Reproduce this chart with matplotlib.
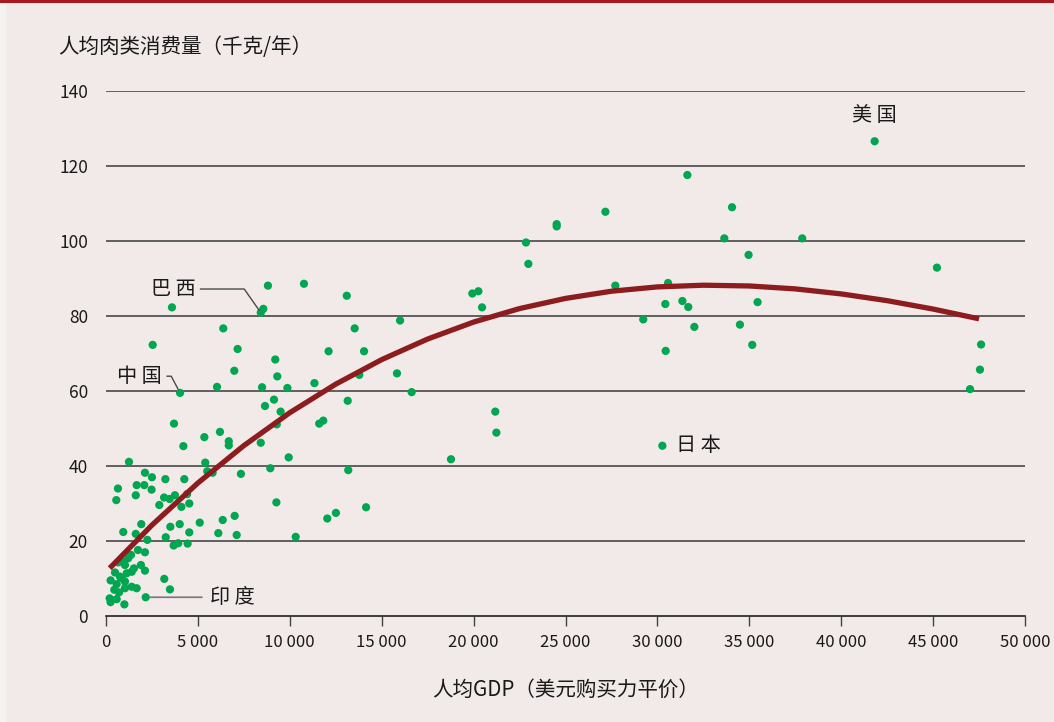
import matplotlib
matplotlib.use('Agg')
import matplotlib.pyplot as plt
from matplotlib.patches import Rectangle
from matplotlib.lines import Line2D

plt.rcParams['font.family'] = ['Noto Sans CJK SC', 'DejaVu Sans']

# GDP per capita (USD, PPP) and meat consumption (kg/person/year)
gdp = [
    940, 1620, 2250, 3250, 4530, 3680, 3930, 4440, 1740, 2120,
    1360, 1210, 940, 1030, 670, 1900, 1520, 1400, 2120, 490,
    1130, 850, 250, 580, 1030, 3170, 1400, 1670, 1030, 450,
    710, 3480, 200, 250, 580, 1000, 2160, 760,
    2120, 2500, 3230, 4260, 5510, 5800, 650, 1670, 2080, 2480,
    1620, 560, 3160, 3460, 3750, 4410, 2900, 4100, 4530, 1920,
    3500, 4010, 5100, 6350, 6110, 1250, 5400, 4210, 7340, 7000,
    7110,
    8810, 10770, 3590, 8560, 8420, 6380, 2540, 7160, 12110, 9210,
    6980, 9320, 6040, 8490, 9870, 11340, 4030, 9140, 8650, 9500,
    11600, 11820, 9290, 3700, 5350, 6200, 6680, 6680, 8420,
    13100, 16000, 13530, 20260, 19930, 20460, 14040, 15830, 13780, 16630,
    13150, 21180, 21240, 9940, 8940, 13180, 18770, 9270, 12040, 12510,
    14150, 10320,
    24520, 24520, 22850, 22980,
    41820, 31630, 27170, 34060, 33640, 37880, 34960, 45210, 27710, 30580,
    30430, 31360, 31680, 35450, 29230, 32010, 34490, 30450, 35160, 47610,
    47550, 47010, 30270,
]
meat = [
    22.4, 21.9, 20.3, 21.0, 22.3, 18.8, 19.4, 19.3, 17.6, 17.0,
    16.3, 15.4, 14.5, 13.6, 14.3, 13.6, 12.7, 11.8, 12.1, 11.6,
    11.4, 10.1, 9.5, 8.5, 9.2, 9.9, 7.8, 7.4, 7.4, 7.0,
    6.3, 7.1, 4.7, 3.7, 4.5, 3.1, 5.0, 10.5,
    38.2, 37.0, 36.5, 36.5, 38.6, 38.2, 34.0, 34.9, 34.9, 33.7,
    32.2, 30.9, 31.6, 31.2, 32.2, 32.5, 29.6, 29.1, 30.0, 24.5,
    23.8, 24.5, 24.9, 25.6, 22.1, 41.1, 40.9, 45.3, 37.9, 26.7,
    21.6,
    88.1, 88.6, 82.3, 81.9, 80.9, 76.7, 72.3, 71.2, 70.6, 68.4,
    65.4, 63.9, 61.1, 61.0, 60.8, 62.1, 59.5, 57.7, 56.0, 54.5,
    51.3, 52.1, 51.1, 51.3, 47.7, 49.1, 46.6, 45.5, 46.2,
    85.4, 78.8, 76.7, 86.6, 86.0, 82.3, 70.6, 64.7, 64.3, 59.7,
    57.4, 54.5, 48.9, 42.3, 39.4, 38.9, 41.8, 30.3, 26.0, 27.5,
    29.0, 21.1,
    104.5, 103.9, 99.6, 93.9,
    126.6, 117.6, 107.8, 109.0, 100.7, 100.7, 96.3, 92.9, 88.1, 88.8,
    83.2, 84.0, 82.4, 83.7, 79.1, 77.1, 77.7, 70.7, 72.3, 72.4,
    65.7, 60.5, 45.4,
]

# trend line
trend_gdp = [200, 2500, 5000, 7500, 10000, 12500, 15000, 17500, 20000, 22500,
             25000, 27500, 30000, 32500, 35000, 37500, 40000, 42500, 45000, 47500]
trend_meat = [12.75, 24.24, 35.47, 45.44, 54.21, 61.83, 68.37, 73.86, 78.38, 81.98,
              84.69, 86.61, 87.76, 88.21, 88.01, 87.23, 85.89, 84.09, 81.85, 79.25]

x_ticks = [0, 5000, 10000, 15000, 20000, 25000, 30000, 35000, 40000, 45000, 50000]
x_ticklabels = ['0', '5 000', '10 000', '15 000', '20 000', '25 000',
                '30 000', '35 000', '40 000', '45 000', '50 000']
y_ticks = [0, 20, 40, 60, 80, 100, 120, 140]

# labelled countries: name -> (gdp, meat)
usa = (41820, 126.6)
japan = (30270, 45.4)
brazil = (8420, 80.9)
china = (4030, 59.5)
india = (2160, 5.0)

bg = '#F2E9E9'
green = '#00A650'
curve_red = '#8C1C1E'
text_col = '#1A1A1A'

fig = plt.figure(figsize=(10.54, 7.22), dpi=100)
fig.patch.set_facecolor(bg)
fig.patches.append(Rectangle((0, 0), 6 / 1054, 1, transform=fig.transFigure,
                             facecolor='#F6F1F1', edgecolor='none', zorder=0))
fig.lines.append(Line2D([0, 1], [0.9985, 0.9985], transform=fig.transFigure,
                        color='#A8191E', lw=2.2))

ax = fig.add_axes([106 / 1054, 1 - 616 / 722, 919 / 1054, (616 - 91) / 722])
ax.set_facecolor(bg)
ax.set_xlim(0, 50000)
ax.set_ylim(0, 140)

for s in ['top', 'right', 'left']:
    ax.spines[s].set_visible(False)
ax.spines['bottom'].set_color('#222222')
ax.spines['bottom'].set_linewidth(1.2)

ax.set_yticks(y_ticks)
ax.set_yticklabels([str(v) for v in y_ticks])
ax.set_xticks(x_ticks)
ax.set_xticklabels(x_ticklabels)
ax.tick_params(axis='y', length=0, pad=13, labelsize=12.5, labelcolor=text_col)
ax.tick_params(axis='x', length=7, width=1, color='#444444', pad=6,
               labelsize=12, labelcolor=text_col)

for v in y_ticks[1:]:
    ax.axhline(v, color='#3A3A3A', lw=1.1, zorder=1)

ax.scatter(gdp, meat, s=35, color=green, edgecolors='none', zorder=3, clip_on=False)
ax.plot(trend_gdp, trend_meat, color=curve_red, lw=3.8, zorder=4,
        solid_capstyle='butt', solid_joinstyle='round')

lab = dict(fontsize=14.5, color=text_col)
ax.annotate('美 国', xy=usa, xytext=(0, 18.5), textcoords='offset points',
            ha='center', va='center', **lab)
ax.annotate('日 本', xy=japan, xytext=(10, 0), textcoords='offset points',
            ha='left', va='center', **lab)
ax.annotate('巴 西', xy=brazil, xytext=(-47, 17), textcoords='offset points',
            ha='right', va='center', **lab,
            arrowprops=dict(arrowstyle='-', color='#4A4A4A', lw=1,
                            shrinkA=1.5, shrinkB=2,
                            connectionstyle='angle,angleA=0,angleB=125,rad=0'))
ax.annotate('中 国', xy=china, xytext=(-13, 12), textcoords='offset points',
            ha='right', va='center', **lab,
            arrowprops=dict(arrowstyle='-', color='#4A4A4A', lw=1,
                            shrinkA=1.5, shrinkB=3,
                            connectionstyle='angle,angleA=0,angleB=118,rad=0'))
ax.annotate('印 度', xy=india, xytext=(46, 0), textcoords='offset points',
            ha='left', va='center', **lab,
            arrowprops=dict(arrowstyle='-', color='#777777', lw=1.2,
                            shrinkA=3.5, shrinkB=3))

fig.text(58 / 1054, 1 - 47 / 722, '人均肉类消费量（千克/年）', fontsize=14.8,
         color=text_col, ha='left', va='center')
fig.text(565.5 / 1054, 1 - 690 / 722, '人均GDP（美元购买力平价）', fontsize=14.8,
         color=text_col, ha='center', va='center')

fig.savefig('out.png', dpi=100, facecolor=fig.get_facecolor())
